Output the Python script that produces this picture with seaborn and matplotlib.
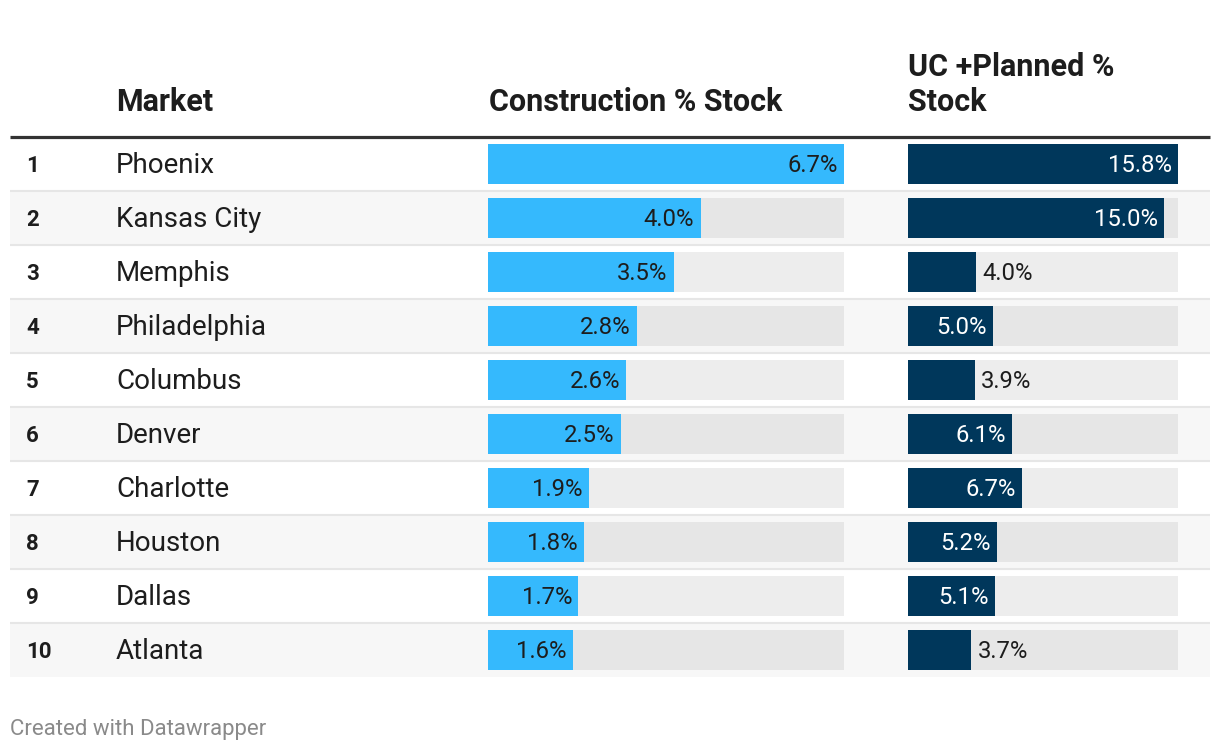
import pandas as pd
import seaborn as sns
import matplotlib.pyplot as plt

# ----------------------------
# Data
# ----------------------------
ranks = [1, 2, 3, 4, 5, 6, 7, 8, 9, 10]
markets = ["Phoenix", "Kansas City", "Memphis", "Philadelphia", "Columbus",
           "Denver", "Charlotte", "Houston", "Dallas", "Atlanta"]
construction_pct = [6.7, 4.0, 3.5, 2.8, 2.6, 2.5, 1.9, 1.8, 1.7, 1.6]
uc_planned_pct = [15.8, 15.0, 4.0, 5.0, 3.9, 6.1, 6.7, 5.2, 5.1, 3.7]

headers = ["Market", "Construction % Stock", "UC +Planned %\nStock"]
footer = "Created with Datawrapper"

df = pd.DataFrame({
    "rank": ranks,
    "market": markets,
    "construction": construction_pct,
    "uc_planned": uc_planned_pct,
})

# ----------------------------
# Style
# ----------------------------
sns.set_theme(style="white")
plt.rcParams["font.family"] = ["Roboto", "DejaVu Sans"]

COLORS = {
    "light": "#35b9fd",
    "navy": "#00375b",
    "text": "#1d1d1d",
    "stripe": "#f7f7f7",
    "rule": "#e6e6e6",
    "track_white": "#ededed",
    "track_stripe": "#e6e6e6",
    "footer": "#8a8a8a",
}

# ----------------------------
# Layout (pixels)
# ----------------------------
W, H = 1220, 752
TABLE_TOP, ROW_H = 137, 54
n = len(df)
TABLE_BOTTOM = TABLE_TOP + n * ROW_H
TXT_DY = 0.035  # nudge row text slightly down


def box(x0, x1):
    return [x0 / W, 1 - TABLE_BOTTOM / H, (x1 - x0) / W,
            (TABLE_BOTTOM - TABLE_TOP) / H]


fig = plt.figure(figsize=(W / 100, H / 100), dpi=100)
fig.patch.set_facecolor("white")

# table body: stripes, rules, rank + market text
ax_tab = fig.add_axes(box(0, W))
ax_tab.set_xlim(0, W)
ax_tab.set_ylim(n - 0.5, -0.5)
ax_tab.axis("off")

for i, row in df.iterrows():
    if i % 2 == 1:
        ax_tab.axhspan(i - 0.5, i + 0.5, xmin=10 / W, xmax=1210 / W,
                       color=COLORS["stripe"], lw=0, zorder=0)
    if i < n - 1:
        ax_tab.plot([10, 1210], [i + 0.5, i + 0.5], color=COLORS["rule"],
                    lw=1.5, solid_capstyle="butt", zorder=1)
    ax_tab.text(26, i + TXT_DY, str(row["rank"]), fontsize=16, fontweight="bold",
                va="center", color=COLORS["text"])
    ax_tab.text(116, i + TXT_DY, row["market"], fontsize=20, va="center",
                color=COLORS["text"])

# thick header rule
ax_tab.plot([10, 1210], [-0.5, -0.5], color="#333333", lw=2.3,
            solid_capstyle="butt", clip_on=False, zorder=3)


# ----------------------------
# Bar columns
# ----------------------------
def bar_column(x0, x1, col, color, inside_color):
    ax = fig.add_axes(box(x0, x1))
    ax.patch.set_alpha(0)
    vmax = df[col].max()
    track = df.assign(track=vmax)
    track_colors = [COLORS["track_white"] if i % 2 == 0 else COLORS["track_stripe"]
                    for i in range(n)]
    sns.barplot(data=track, y="market", x="track", hue="market",
                palette=track_colors, legend=False, width=0.74, orient="h",
                saturation=1, linewidth=0, ax=ax)
    sns.barplot(data=df, y="market", x=col, color=color, width=0.74,
                orient="h", saturation=1, linewidth=0, ax=ax)
    ax.set_xlim(0, vmax)
    ax.set_ylim(n - 0.5, -0.5)
    ax.axis("off")

    px_per_unit = (x1 - x0) / vmax
    for i, v in enumerate(df[col]):
        label = f"{v:.1f}%"
        if v * px_per_unit > 75:
            ax.annotate(label, (v, i + TXT_DY), xytext=(-4.5, 0), textcoords="offset points",
                        ha="right", va="center", fontsize=17.2, color=inside_color)
        else:
            ax.annotate(label, (v, i + TXT_DY), xytext=(4.5, 0), textcoords="offset points",
                        ha="left", va="center", fontsize=17.2, color=COLORS["text"])
    return ax


bar_column(488, 844, "construction", COLORS["light"], COLORS["text"])
bar_column(908, 1178, "uc_planned", COLORS["navy"], "white")

# ----------------------------
# Headers & footer
# ----------------------------
for x, label in zip([116, 489, 908], headers):
    fig.text(x / W, 1 - 111 / H, label, fontsize=22, fontweight="bold",
             va="baseline", ha="left", color=COLORS["text"], linespacing=1.2)

fig.text(10 / W, 1 - 730 / H, footer, fontsize=16, color=COLORS["footer"],
         va="center", ha="left")

plt.savefig("out.png", dpi=100, facecolor="white")
plt.close()
